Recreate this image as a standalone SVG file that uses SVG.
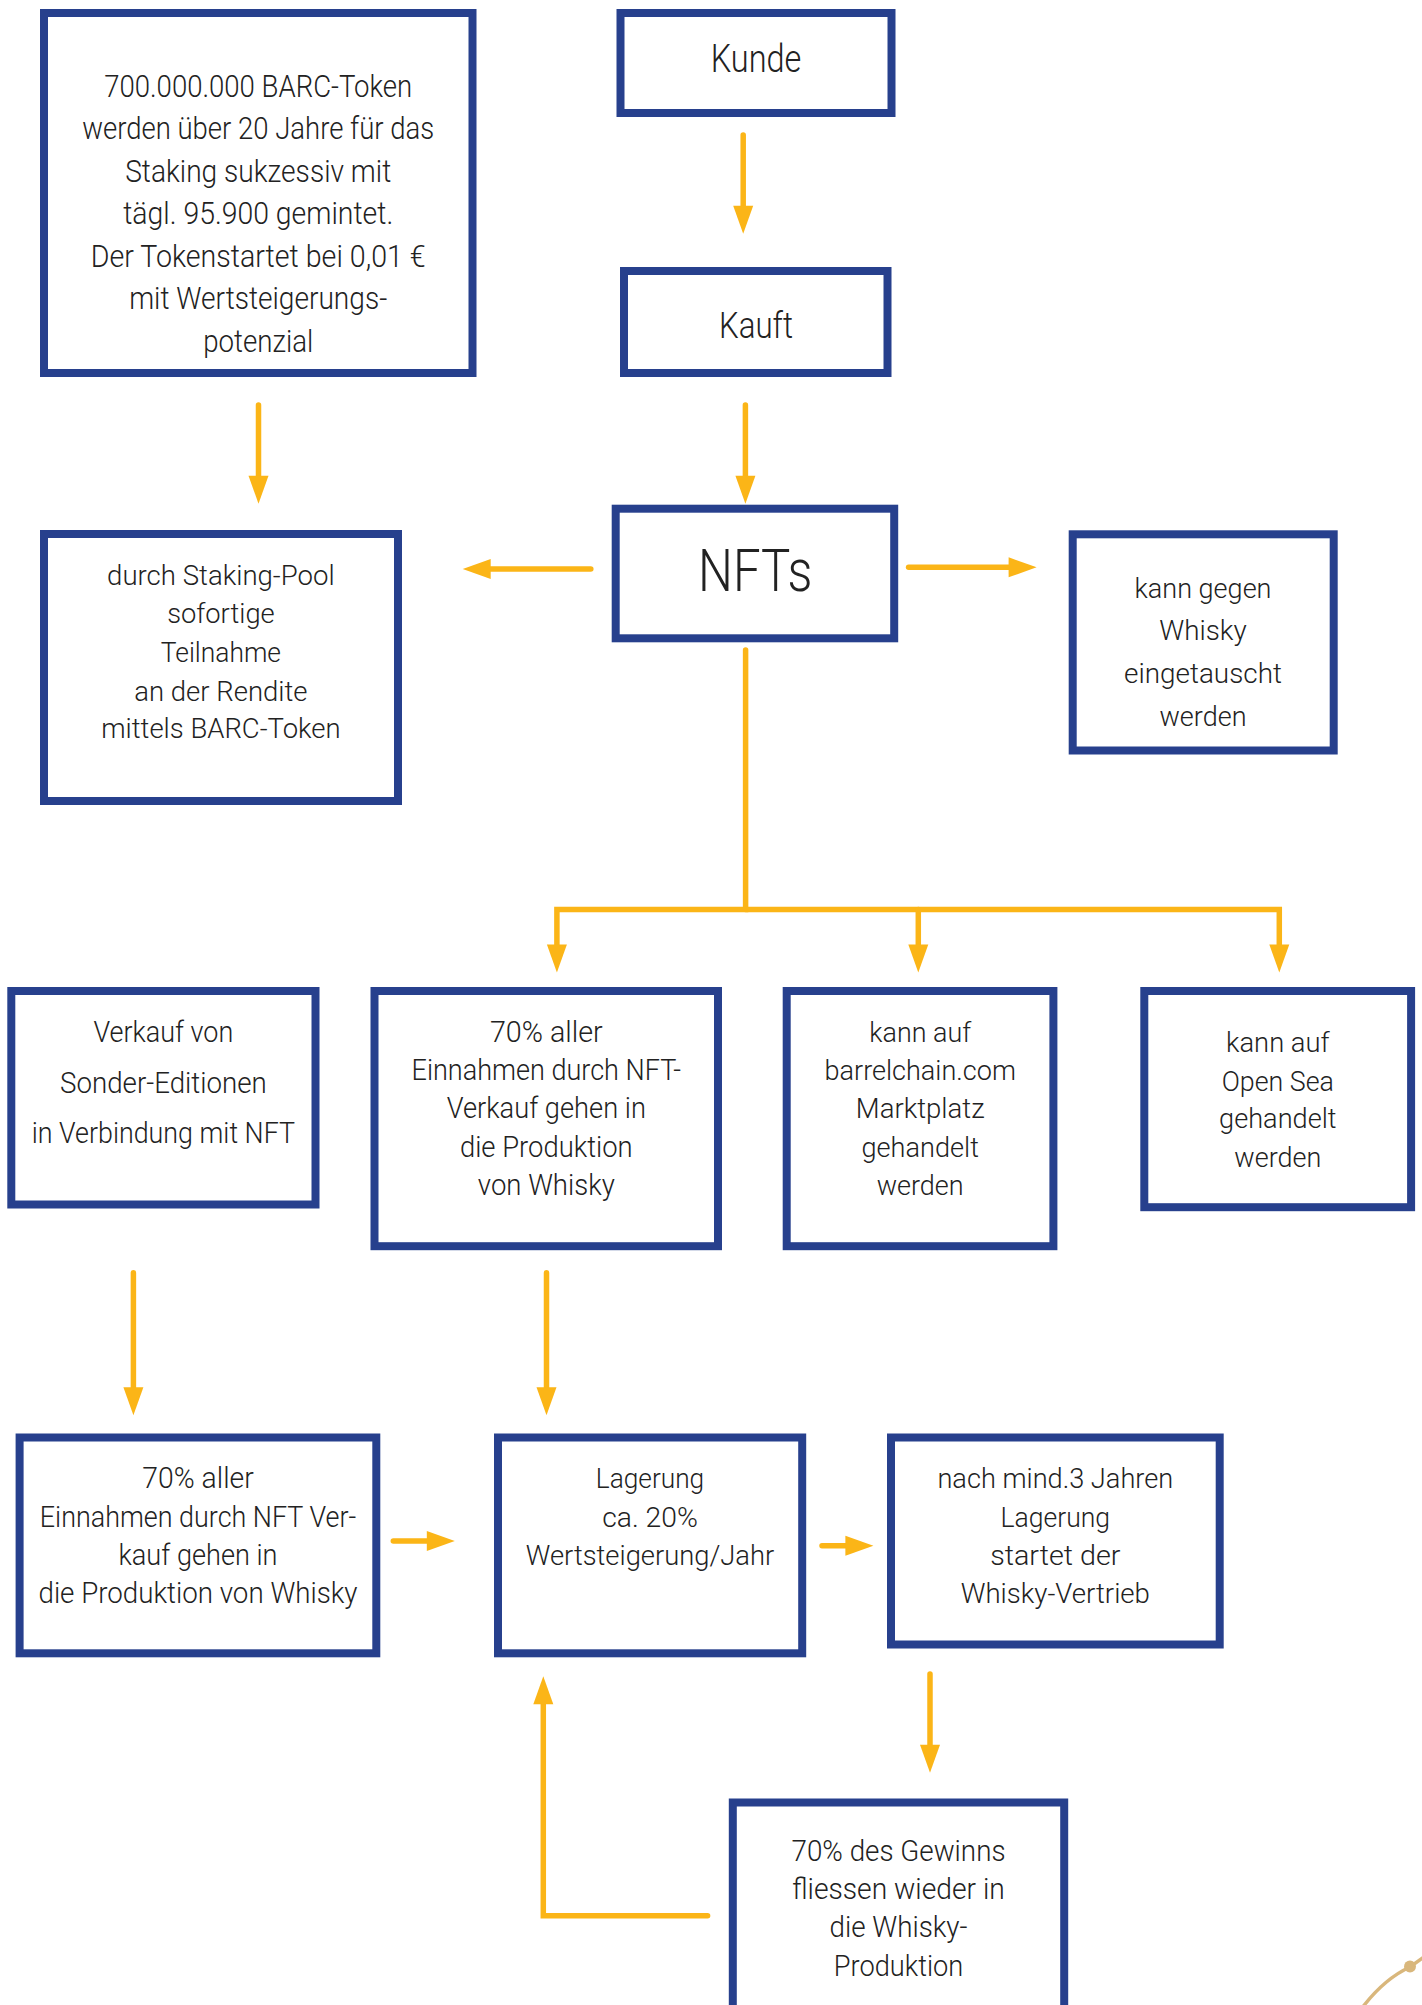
<svg xmlns="http://www.w3.org/2000/svg" width="1422" height="2005" viewBox="0 0 1422 2005">
<style>
.box{fill:#fff;stroke:#27408d;stroke-width:8}
.t{font-family:Roboto,"Liberation Sans",sans-serif;font-weight:300;fill:#222;text-anchor:middle}
.f28{font-size:28px}.f30{font-size:30px}.f32{font-size:32px}
.c{fill:none;stroke:#fbb517;stroke-width:5.5;stroke-linecap:round;stroke-linejoin:miter}
.ah{marker-end:url(#arr)}
</style>
<defs>
<marker id="arr" markerUnits="userSpaceOnUse" markerWidth="28" markerHeight="20" refX="1" refY="10" orient="auto" overflow="visible">
<path d="M0,0 L28,10 L0,20 z" fill="#fbb517"/>
</marker>
</defs>
<rect width="1422" height="2005" fill="#fff"/>
<g id="connectors">
<path class="c ah" d="M743.2,135 V206.7"/>
<path class="c ah" d="M745.4,405 V476.7"/>
<path class="c ah" d="M258.5,405 V476.7"/>
<path class="c ah" d="M590.8,569 H489.7"/>
<path class="c ah" d="M908.6,567.3 H1009.6"/>
<path class="c ah" d="M745.6,650 V909.5 H556.9 V945.5"/>
<path class="c ah" d="M745.6,909.5 H1279.3 V945.5"/>
<path class="c ah" d="M918.3,909.5 V945.5"/>
<path class="c ah" d="M133.4,1272.7 V1388.3"/>
<path class="c ah" d="M546.5,1272.7 V1388.3"/>
<path class="c ah" d="M393.3,1541 H427.8"/>
<path class="c ah" d="M822,1545.7 H846.4"/>
<path class="c ah" d="M930,1674 V1745.7"/>
<path class="c ah" d="M707.6,1915.7 H543.3 V1703.3"/>
</g>
<g id="n-barc">
<rect class="box" x="44" y="13" width="428.5" height="360"/>
<text class="t f32" x="258.2" y="96.7" textLength="308" lengthAdjust="spacingAndGlyphs">700.000.000 BARC-Token</text>
<text class="t f32" x="258.2" y="139" textLength="352" lengthAdjust="spacingAndGlyphs">werden über 20 Jahre für das</text>
<text class="t f32" x="258.2" y="181.7" textLength="266" lengthAdjust="spacingAndGlyphs">Staking sukzessiv mit</text>
<text class="t f32" x="258.2" y="224" textLength="270" lengthAdjust="spacingAndGlyphs">tägl. 95.900 gemintet.</text>
<text class="t f32" x="258.2" y="266.7" textLength="335" lengthAdjust="spacingAndGlyphs">Der Tokenstartet bei 0,01 €</text>
<text class="t f32" x="258.2" y="309.3" textLength="258" lengthAdjust="spacingAndGlyphs">mit Wertsteigerungs-</text>
<text class="t f32" x="258.2" y="352.3" textLength="110" lengthAdjust="spacingAndGlyphs">potenzial</text>
</g>
<g id="n-kunde">
<rect class="box" x="620.5" y="13" width="271" height="100"/>
<text class="t" style="font-size:38px" x="756" y="71.7" textLength="90.7" lengthAdjust="spacingAndGlyphs">Kunde</text>
</g>
<g id="n-kauft">
<rect class="box" x="624" y="271" width="263.5" height="102"/>
<text class="t" style="font-size:37px" x="756" y="337.7" textLength="74" lengthAdjust="spacingAndGlyphs">Kauft</text>
</g>
<g id="n-nfts">
<rect class="box" x="615.7" y="508.7" width="278.5" height="129.6"/>
<text class="t" style="font-size:60px" x="755.3" y="590.7" textLength="114.4" lengthAdjust="spacingAndGlyphs">NFTs</text>
</g>
<g id="n-staking">
<rect class="box" x="44" y="534" width="354" height="267"/>
<text class="t f28" x="220.9" y="585" textLength="227.6" lengthAdjust="spacingAndGlyphs">durch Staking-Pool</text>
<text class="t f28" x="220.9" y="623.3" textLength="107.5" lengthAdjust="spacingAndGlyphs">sofortige</text>
<text class="t f28" x="220.9" y="661.7" textLength="120.2" lengthAdjust="spacingAndGlyphs">Teilnahme</text>
<text class="t f28" x="220.9" y="700.7" textLength="173.2" lengthAdjust="spacingAndGlyphs">an der Rendite</text>
<text class="t f28" x="220.9" y="738.3" textLength="239.4" lengthAdjust="spacingAndGlyphs">mittels BARC-Token</text>
</g>
<g id="n-whisky">
<rect class="box" x="1072.7" y="534.3" width="261" height="216.2"/>
<text class="t f28" x="1203" y="598.3" textLength="137" lengthAdjust="spacingAndGlyphs">kann gegen</text>
<text class="t f28" x="1203" y="640" textLength="87.5" lengthAdjust="spacingAndGlyphs">Whisky</text>
<text class="t f28" x="1203" y="683.3" textLength="157.9" lengthAdjust="spacingAndGlyphs">eingetauscht</text>
<text class="t f28" x="1203" y="725.7" textLength="87" lengthAdjust="spacingAndGlyphs">werden</text>
</g>
<g id="n-verkauf">
<rect class="box" x="11.3" y="991" width="304.2" height="213.5"/>
<text class="t f30" x="163.4" y="1041.7" textLength="139.7" lengthAdjust="spacingAndGlyphs">Verkauf von</text>
<text class="t f30" x="163.4" y="1092.7" textLength="206.7" lengthAdjust="spacingAndGlyphs">Sonder-Editionen</text>
<text class="t f30" x="163.4" y="1143.3" textLength="263.3" lengthAdjust="spacingAndGlyphs">in Verbindung mit NFT</text>
</g>
<g id="n-einnahmen">
<rect class="box" x="374.5" y="991" width="343.5" height="255.2"/>
<text class="t f30" x="546.3" y="1041.7" textLength="112.8" lengthAdjust="spacingAndGlyphs">70% aller</text>
<text class="t f30" x="546.3" y="1080" textLength="269.5" lengthAdjust="spacingAndGlyphs">Einnahmen durch NFT-</text>
<text class="t f30" x="546.3" y="1118.3" textLength="199.2" lengthAdjust="spacingAndGlyphs">Verkauf gehen in</text>
<text class="t f30" x="546.3" y="1156.7" textLength="172.7" lengthAdjust="spacingAndGlyphs">die Produktion</text>
<text class="t f30" x="546.3" y="1195" textLength="136.9" lengthAdjust="spacingAndGlyphs">von Whisky</text>
</g>
<g id="n-barrelchain">
<rect class="box" x="786.7" y="991" width="266.7" height="255.2"/>
<text class="t f28" x="920.2" y="1041.7" textLength="101.8" lengthAdjust="spacingAndGlyphs">kann auf</text>
<text class="t f28" x="920.2" y="1080" textLength="191.4" lengthAdjust="spacingAndGlyphs">barrelchain.com</text>
<text class="t f28" x="920.2" y="1118.3" textLength="128.7" lengthAdjust="spacingAndGlyphs">Marktplatz</text>
<text class="t f28" x="920.2" y="1156.7" textLength="117.4" lengthAdjust="spacingAndGlyphs">gehandelt</text>
<text class="t f28" x="920.2" y="1195" textLength="87" lengthAdjust="spacingAndGlyphs">werden</text>
</g>
<g id="n-opensea">
<rect class="box" x="1144.3" y="991" width="266.8" height="216.2"/>
<text class="t f28" x="1277.8" y="1051.7" textLength="103.5" lengthAdjust="spacingAndGlyphs">kann auf</text>
<text class="t f28" x="1277.8" y="1090.7" textLength="112.2" lengthAdjust="spacingAndGlyphs">Open Sea</text>
<text class="t f28" x="1277.8" y="1128.3" textLength="117.4" lengthAdjust="spacingAndGlyphs">gehandelt</text>
<text class="t f28" x="1277.8" y="1167.3" textLength="87" lengthAdjust="spacingAndGlyphs">werden</text>
</g>
<g id="n-einnahmen2">
<rect class="box" x="19.6" y="1437.5" width="356.7" height="215.8"/>
<text class="t f30" x="198" y="1488.3" textLength="111.4" lengthAdjust="spacingAndGlyphs">70% aller</text>
<text class="t f30" x="198" y="1526.7" textLength="316.4" lengthAdjust="spacingAndGlyphs">Einnahmen durch NFT Ver-</text>
<text class="t f30" x="198" y="1565" textLength="159" lengthAdjust="spacingAndGlyphs">kauf gehen in</text>
<text class="t f30" x="198" y="1603.3" textLength="319" lengthAdjust="spacingAndGlyphs">die Produktion von Whisky</text>
</g>
<g id="n-lagerung">
<rect class="box" x="498" y="1437.5" width="304.2" height="215.8"/>
<text class="t f28" x="650" y="1488.3" textLength="108.3" lengthAdjust="spacingAndGlyphs">Lagerung</text>
<text class="t f28" x="650" y="1526.7" textLength="95.7" lengthAdjust="spacingAndGlyphs">ca. 20%</text>
<text class="t f28" x="650" y="1565" textLength="248.4" lengthAdjust="spacingAndGlyphs">Wertsteigerung/Jahr</text>
</g>
<g id="n-vertrieb">
<rect class="box" x="891" y="1437.5" width="328.7" height="207"/>
<text class="t f28" x="1055.3" y="1488.3" textLength="235.8" lengthAdjust="spacingAndGlyphs">nach mind.3 Jahren</text>
<text class="t f28" x="1055.3" y="1526.7" textLength="109.6" lengthAdjust="spacingAndGlyphs">Lagerung</text>
<text class="t f28" x="1055.3" y="1565" textLength="130.3" lengthAdjust="spacingAndGlyphs">startet der</text>
<text class="t f28" x="1055.3" y="1603.3" textLength="189.3" lengthAdjust="spacingAndGlyphs">Whisky-Vertrieb</text>
</g>
<g id="n-gewinn">
<rect class="box" x="732.8" y="1802.5" width="331.4" height="260"/>
<text class="t f30" x="898.5" y="1861" textLength="214" lengthAdjust="spacingAndGlyphs">70% des Gewinns</text>
<text class="t f30" x="898.5" y="1898.8" textLength="212.5" lengthAdjust="spacingAndGlyphs">fliessen wieder in</text>
<text class="t f30" x="898.5" y="1937" textLength="138" lengthAdjust="spacingAndGlyphs">die Whisky-</text>
<text class="t f30" x="898.5" y="1976" textLength="129.5" lengthAdjust="spacingAndGlyphs">Produktion</text>
</g>
<g id="decor">
<path d="M1362,2008 Q1384,1979 1410,1967 L1424,1957" fill="none" stroke="#d9b77c" stroke-width="3.5"/>
<circle cx="1410" cy="1966.5" r="6" fill="#d9b77c"/>
</g>
</svg>
